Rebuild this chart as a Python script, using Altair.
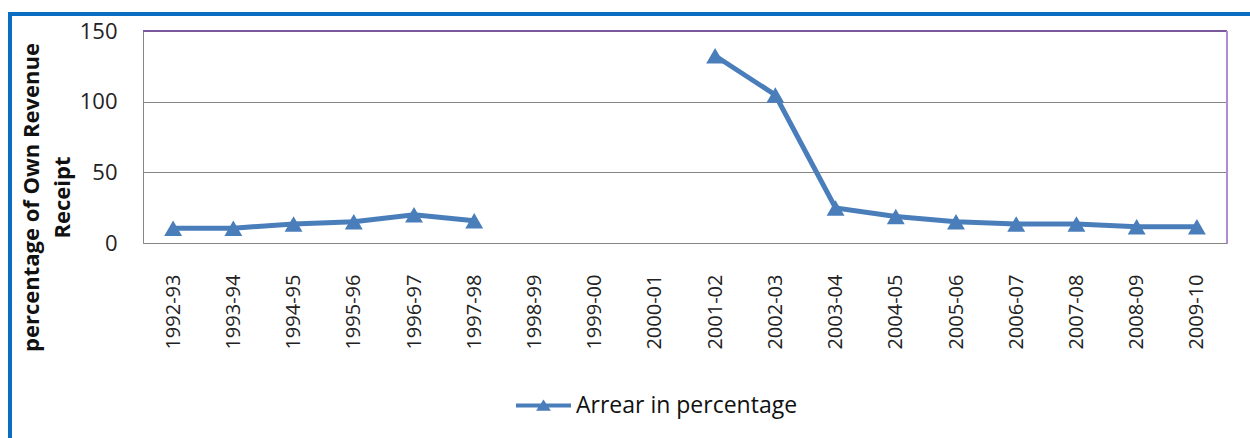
import altair as alt
import pandas as pd

years = ["1992-93", "1993-94", "1994-95", "1995-96", "1996-97", "1997-98",
         "1998-99", "1999-00", "2000-01", "2001-02", "2002-03", "2003-04",
         "2004-05", "2005-06", "2006-07", "2007-08", "2008-09", "2009-10"]
arrear = [10.5, 10.5, 13.4, 15.1, 20.0, 15.8,
          None, None, None, 132.5, 104.7, 24.8,
          18.7, 15.1, 13.4, 13.4, 11.5, 11.5]
series_name = "Arrear in percentage"

df = pd.DataFrame({"year": years, "value": arrear, "series": series_name})

W, H = 1084, 212
FONT = "Open Sans"
BLUE = "#4A7EBB"

x_enc = alt.X("year:O", sort=years,
              scale=alt.Scale(type="point", domain=years, padding=0.5),
              axis=alt.Axis(title=None, labelAngle=270, labelAlign="right",
                            labelBaseline="middle", labelPadding=31,
                            labelFontSize=20, labelFont=FONT, labelColor="#222",
                            ticks=False, domainColor="#868686", grid=False))
y_enc = alt.Y("value:Q", scale=alt.Scale(domain=[0, 150], nice=False),
              axis=alt.Axis(values=[0, 50, 100, 150], ticks=False,
                            labelFontSize=22, labelFont=FONT, labelColor="#222",
                            labelPadding=26, domainColor="#868686",
                            gridColor="#868686", gridWidth=1,
                            title=["percentage of Own Revenue", "Receipt"],
                            titleFont=FONT, titleFontSize=22, titleFontWeight="bold",
                            titleColor="#111", titleAngle=270, titleAlign="center",
                            titleBaseline="top", titleLineHeight=31,
                            titleX=-122, titleY=166))

line = alt.Chart(df).mark_line(color=BLUE, strokeWidth=5,
                               invalid="break-paths-show-domains").encode(x=x_enc, y=y_enc)

legend_path = "M-1,-0.075H1V0.075H-1Z M0,-0.22L0.27,0.19H-0.27Z"
points = alt.Chart(df).mark_point(shape="triangle-up", filled=True, size=320,
                                  opacity=1).encode(
    x=alt.X("year:O", sort=years), y="value:Q",
    color=alt.Color("series:N", scale=alt.Scale(range=[BLUE]),
                    legend=alt.Legend(title=None, orient="none", legendX=373,
                                      legendY=347, symbolType=legend_path,
                                      symbolSize=3025, symbolStrokeWidth=0,
                                      labelFont=FONT, labelFontSize=23,
                                      labelColor="#111", labelOffset=5,
                                      labelLimit=0, padding=0)))

top_border = alt.Chart(df).mark_rule(color="#7B5A9E", strokeWidth=1.5).encode(
    x=alt.value(0), x2=alt.value(W), y=alt.value(0))
right_border = alt.Chart(df).mark_rule(color="#B28AD6", strokeWidth=1.5).encode(
    x=alt.value(W), y=alt.value(0), y2=alt.value(H))

frame_top = alt.Chart(df).mark_rule(color="#0A6FC2", strokeWidth=4).encode(
    x=alt.value(-133), x2=alt.value(1250), y=alt.value(-17))
frame_left = alt.Chart(df).mark_rule(color="#0A6FC2", strokeWidth=4).encode(
    x=alt.value(-133), y=alt.value(-19), y2=alt.value(420))

chart = alt.layer(line, points, top_border, right_border, frame_top, frame_left).properties(
    width=W, height=H,
    autosize=alt.AutoSizeParams(type="none"),
    padding={"left": 143, "top": 31, "right": 23, "bottom": 195},
    background="white",
).configure_view(stroke=None)

chart.save("out.html", embed_options={"renderer": "svg", "actions": False})
